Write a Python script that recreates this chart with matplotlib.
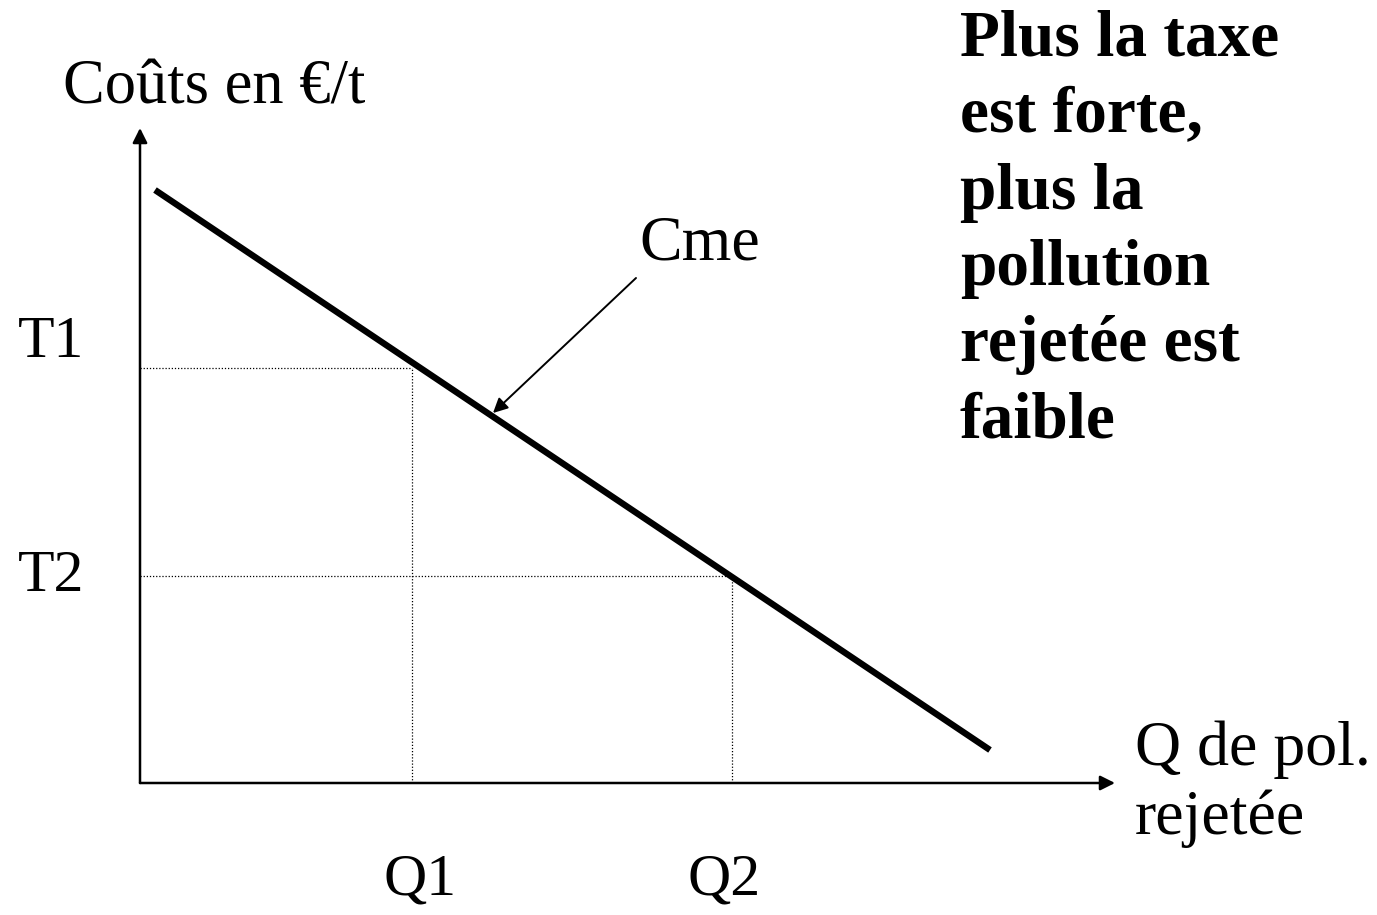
import matplotlib
matplotlib.use("Agg")
import matplotlib.pyplot as plt

plt.rcParams['font.family'] = ['Liberation Serif', 'DejaVu Serif']

# Diagram data (units: arbitrary, origin at axes crossing)
curve_x = [15, 850]
curve_y = [593, 33]
t_levels = [415, 207]      # T1, T2
q_levels = [272, 592]      # Q1, Q2
t_labels = ["T1", "T2"]
q_labels = ["Q1", "Q2"]
x_axis_end = 975
y_axis_end = 655
cme_label = "Cme"
y_title = "Coûts en €/t"
x_title = "Q de pol.\nrejetée"
side_note = "Plus la taxe\nest forte,\nplus la\npollution\nrejetée est\nfaible"

fig = plt.figure(figsize=(13.77, 9.15), dpi=100)
ax = fig.add_axes([0, 0, 1, 1])
ax.set_xlim(-140, 1237)
ax.set_ylim(-132, 783)
ax.axis('off')

# axes with arrows
ax.annotate("", xy=(x_axis_end, 0), xytext=(0, 0),
            arrowprops=dict(arrowstyle='-|>', lw=1.8, color='black', mutation_scale=22, shrinkA=0, shrinkB=0))
ax.annotate("", xy=(0, y_axis_end), xytext=(0, 0),
            arrowprops=dict(arrowstyle='-|>', lw=1.8, color='black', mutation_scale=22, shrinkA=0, shrinkB=0))

# curve
ax.plot(curve_x, curve_y, color='black', lw=4.6, solid_capstyle='butt')

# dotted guides
for t, q in zip(t_levels, q_levels):
    ax.plot([0, q], [t, t], color='black', lw=0.9, linestyle=(0, (1, 1.5)))
    ax.plot([q, q], [0, t], color='black', lw=0.9, linestyle=(0, (1, 1.5)))

for t, lab, dy in zip(t_levels, t_labels, [25, -1]):
    ax.text(-89, t + dy, lab, fontsize=43, ha='center', va='center')
for q, lab, dx in zip(q_levels, q_labels, [8, -8]):
    ax.text(q + dx, -98, lab, fontsize=43, ha='center', va='center')

ax.text(-77, 694, y_title, fontsize=45, ha='left', va='center')
ax.text(995, -1, x_title, fontsize=46, ha='left', va='center', linespacing=1.24)

# Cme annotation
ax.annotate("", xy=(353, 370), xytext=(496, 505),
            arrowprops=dict(arrowstyle='-|>', lw=1.4, color='black', mutation_scale=22, shrinkA=0, shrinkB=0))
ax.text(560, 538, cme_label, fontsize=46, ha='center', va='center')

ax.text(820, 773, side_note, fontsize=47, fontweight='bold', ha='left', va='top', linespacing=1.355)

fig.savefig("out.png", dpi=100, facecolor='white')
